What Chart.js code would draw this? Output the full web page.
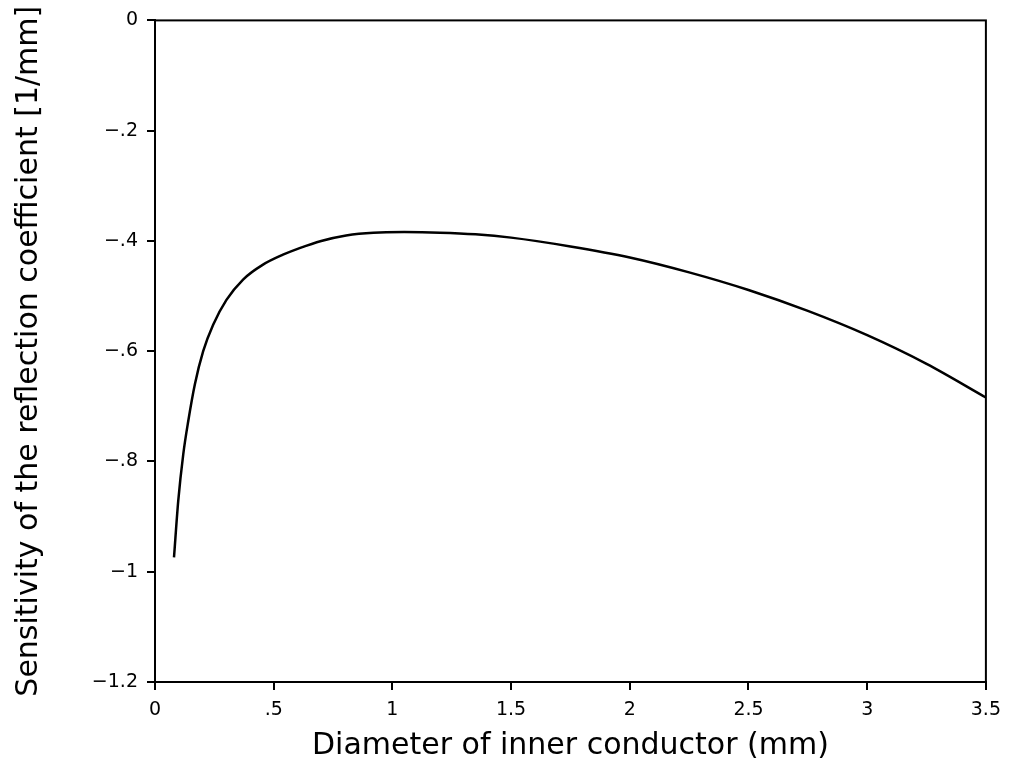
<!DOCTYPE html>
<html>
<head>
<meta charset="utf-8">
<script src="https://cdn.jsdelivr.net/npm/chart.js@4.4.0/dist/chart.umd.min.js"></script>
<style>
  html, body { margin: 0; padding: 0; background: #fff; }
  #wrap { width: 1010px; height: 767px; position: relative; }
</style>
</head>
<body>
<div id="wrap"><canvas id="c" width="1010" height="767"></canvas></div>
<script>
// Diameter of inner conductor (mm)
const diameter = [0.080, 0.098, 0.119, 0.140, 0.168, 0.203, 0.245, 0.301, 0.371, 0.455, 0.539, 0.609, 0.70, 0.805, 0.92, 1.05, 1.2, 1.35, 1.5, 1.75, 2.0, 2.25, 2.5, 2.75, 3.0, 3.25, 3.5];
// Sensitivity of the reflection coefficient [1/mm]
const sensitivity = [-0.974, -0.871, -0.787, -0.727, -0.660, -0.600, -0.552, -0.507, -0.470, -0.443, -0.425, -0.413, -0.400, -0.390, -0.385, -0.384, -0.385, -0.388, -0.394, -0.410, -0.430, -0.457, -0.489, -0.527, -0.571, -0.623, -0.684];
const xTickValues = [0, 0.5, 1, 1.5, 2, 2.5, 3, 3.5];
const yTickValues = [0, -0.2, -0.4, -0.6, -0.8, -1, -1.2];
const xTitle = 'Diameter of inner conductor (mm)';
const yTitle = 'Sensitivity of the reflection coefficient [1/mm]';

function fmt(v) {
  const r = Math.round(v * 10) / 10;
  if (r === 0) return '0';
  let s = String(Math.abs(r));
  if (s.startsWith('0.')) s = s.slice(1);
  return (r < 0 ? '\u2212' : '') + s;
}

const boxPlugin = {
  id: 'box',
  afterDraw(chart) {
    const { ctx, chartArea: a } = chart;
    ctx.save();
    ctx.strokeStyle = '#000';
    ctx.lineWidth = 2;
    ctx.strokeRect(a.left, a.top, a.right - a.left, a.bottom - a.top);
    ctx.restore();
  }
};

const FONT = "'DejaVu Sans', sans-serif";

new Chart(document.getElementById('c'), {
  type: 'scatter',
  data: {
    datasets: [{
      data: diameter.map((d, i) => ({ x: d, y: sensitivity[i] })),
      showLine: true,
      borderColor: '#000',
      borderWidth: 2.5,
      pointRadius: 0,
      cubicInterpolationMode: 'monotone',
      fill: false
    }]
  },
  options: {
    responsive: false,
    animation: false,
    layout: { padding: { top: 17, right: 22, left: 0, bottom: 0 } },
    plugins: { legend: { display: false }, tooltip: { enabled: false } },
    scales: {
      x: {
        type: 'linear',
        min: 0, max: 3.5,
        afterFit(s) { s.height = 85; },
        afterBuildTicks(s) { s.ticks = xTickValues.map(v => ({ value: v })); },
        grid: { drawOnChartArea: false, drawTicks: true, tickLength: 8, color: '#000', lineWidth: 2 },
        border: { display: true, color: '#000', width: 2 },
        ticks: { color: '#000', font: { family: FONT, size: 19 }, padding: 9, callback: v => fmt(v), maxRotation: 0 },
        title: { display: true, text: xTitle, color: '#000', font: { family: FONT, size: 30 }, padding: { top: 0, bottom: 3 } }
      },
      y: {
        type: 'linear',
        min: -1.2, max: 0,
        afterFit(s) { s.width = 155; },
        afterBuildTicks(s) { s.ticks = yTickValues.map(v => ({ value: v })); },
        grid: { drawOnChartArea: false, drawTicks: true, tickLength: 8, color: '#000', lineWidth: 2 },
        border: { display: true, color: '#000', width: 2 },
        ticks: { color: '#000', font: { family: FONT, size: 19 }, padding: 9, callback: v => fmt(v) },
        title: { display: true, text: yTitle, color: '#000', font: { family: FONT, size: 30 }, padding: { top: 11, bottom: 0 } }
      }
    }
  },
  plugins: [boxPlugin]
});
</script>
</body>
</html>
